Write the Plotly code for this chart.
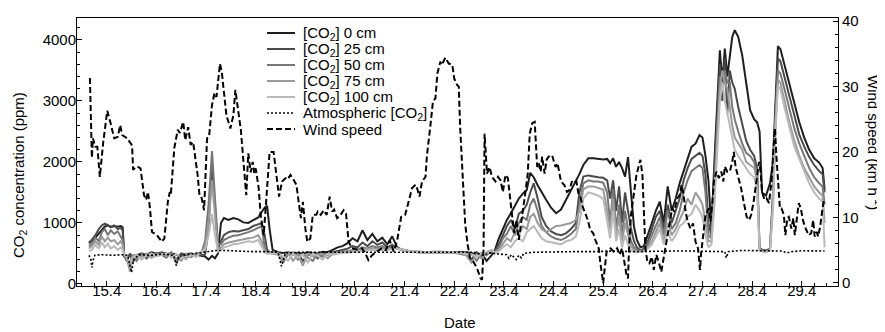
import plotly.graph_objects as go

# ---------------- data ----------------
day_co2 = [
    15.04, 15.10, 15.17, 15.24, 15.30, 15.36, 15.42, 15.48, 15.55, 15.62, 15.68, 15.72,
    15.75, 15.80, 15.87, 15.92, 16.00, 16.10, 16.20, 16.30, 16.40, 16.50, 16.60, 16.70, 16.80, 16.90, 17.00, 17.10, 17.20, 17.30,
    17.38, 17.45, 17.52, 17.58, 17.64, 17.70, 17.76, 17.85, 17.95, 18.05, 18.15, 18.25, 18.35, 18.45, 18.52, 18.58, 18.63, 18.68, 18.74,
    18.85, 18.95, 19.05, 19.15, 19.25, 19.35, 19.45, 19.55, 19.65, 19.75, 19.85, 19.95, 20.05, 20.15,
    20.25, 20.35, 20.45, 20.55, 20.65, 20.75, 20.85, 20.95, 21.05, 21.15, 21.25, 21.35, 21.45, 21.55,
    21.70, 21.85, 22.00, 22.20, 22.40, 22.60, 22.75, 22.85, 22.95, 23.05, 23.15,
    23.22, 23.30, 23.38, 23.46, 23.54, 23.62, 23.70, 23.78, 23.86, 23.93, 24.00, 24.08, 24.16, 24.25, 24.35, 24.45, 24.55, 24.65, 24.75,
    24.85, 24.92, 25.00, 25.10, 25.20, 25.30, 25.40, 25.48, 25.54, 25.60, 25.66, 25.72, 25.78, 25.84, 25.90, 25.96, 26.02, 26.08, 26.15,
    26.22, 26.30, 26.38, 26.46, 26.54, 26.62, 26.70, 26.78, 26.86, 26.94, 27.02, 27.10, 27.18, 27.26, 27.34, 27.40, 27.46, 27.52,
    27.58, 27.64, 27.70, 27.75, 27.80, 27.85, 27.90, 27.95, 28.00, 28.05, 28.12, 28.20, 28.28, 28.36, 28.44, 28.50, 28.55, 28.60,
    28.68, 28.76, 28.82, 28.87, 28.92, 28.97, 29.05, 29.15, 29.25, 29.35, 29.45, 29.55, 29.65, 29.75, 29.82, 29.86,
]

co2_0cm = [
    690, 700, 760, 820, 880, 940, 960, 930, 950, 940, 950, 930,
    450, 420, 480, 460, 470, 500, 480, 520, 500, 510, 490, 500, 480, 470, 490, 500, 480, 460,
    450, 400, 460, 420, 500, 1000, 1080, 1050, 1080, 1060, 1010, 1000, 1050, 1090, 1180, 1250, 1280, 900, 560,
    520, 510, 520, 500, 510, 500, 520, 510, 500, 530, 520, 560, 600, 620,
    670, 750, 700, 880, 720, 820, 700, 760, 650, 780, 600, 560, 540, 530,
    530, 520, 530, 530, 520, 520, 510, 480, 500, 380, 470,
    560, 750, 900, 1050, 1160, 1270, 1400, 1480, 1540, 1820, 1750, 1620, 1500, 1380, 1250, 1160, 1220, 1380, 1540,
    1680, 1800, 1950, 2060, 2060, 2050, 2040, 2050, 1980, 2060, 1920, 2000, 1900, 1760, 2080, 1500, 940, 720, 600,
    620, 800, 1000, 1200, 1350, 1000, 1600, 1200, 1400, 1650, 1850, 2050, 2250, 2300, 2440, 2400, 2100, 1700,
    900, 2000, 3000, 3830, 3300, 3860, 3400, 3700, 4050, 4160, 4050, 3750, 3300, 2850, 2700, 2650, 2500, 1500,
    1450, 1650, 2000, 3000, 3900, 3850, 3600, 3250, 2950, 2650, 2400, 2200, 2060, 1990, 1900, 1550,
]

co2_25cm = [
    660, 720, 800, 900, 960, 990, 970, 940, 960, 900, 920, 880,
    480, 380, 500, 350, 460, 480, 420, 500, 460, 520, 500, 470, 400, 500, 480, 440, 500, 470,
    480, 900, 1950, 1300, 600, 700, 800, 850, 870, 860, 880, 900, 950, 980, 1000, 800, 560, 520, 510,
    500, 420, 510, 480, 500, 380, 470, 500, 420, 500, 480, 520, 540, 560,
    580, 620, 600, 680, 620, 700, 640, 680, 600, 640, 580, 560, 540, 530,
    520, 520, 520, 520, 520, 500, 400, 520, 450, 500, 520,
    540, 650, 800, 950, 1050, 900, 1150, 1200, 1300, 1500, 1650, 1400, 1100, 950, 860, 820, 800, 830, 900,
    1000, 1500, 1760, 1780, 1760, 1750, 1740, 1700, 1400, 1700, 1200, 1600, 1000, 1500, 1200, 900, 700, 600, 550,
    580, 700, 900, 1100, 1200, 900, 1300, 1000, 1200, 1400, 1700, 1900, 2050, 2100, 2150, 2100, 1800, 1000,
    800, 1800, 2800, 3600, 3000, 3700, 2800, 3500, 3300, 3200, 2900, 2600, 2350, 2200, 2100, 1900, 600, 560,
    550, 580, 1500, 2800, 3700, 3650, 3400, 3050, 2750, 2450, 2250, 2080, 1950, 1850, 1800, 1500,
]

co2_50cm = [
    620, 660, 760, 700, 850, 900, 800, 880, 820, 860, 780, 720,
    500, 400, 300, 450, 380, 500, 440, 470, 510, 480, 430, 520, 350, 460, 420, 500, 470, 500,
    700, 1300, 2180, 1400, 650, 650, 720, 760, 790, 800, 820, 850, 880, 920, 950, 600, 520, 510, 500,
    510, 350, 480, 520, 400, 500, 430, 380, 500, 450, 500, 510, 520, 530,
    540, 560, 560, 600, 580, 620, 600, 620, 570, 600, 580, 570, 550, 530,
    520, 520, 520, 520, 510, 480, 500, 380, 500, 470, 540,
    520, 600, 750, 820, 950, 800, 1000, 1100, 1050, 1300, 1400, 1200, 950, 850, 780, 740, 720, 760, 820,
    900, 1300, 1650, 1700, 1680, 1680, 1660, 1500, 1000, 1550, 900, 1300, 800, 1200, 900, 700, 600, 560, 540,
    560, 650, 800, 950, 1100, 800, 1200, 900, 1000, 1200, 1500, 1700, 1850, 1900, 1950, 1900, 1500, 800,
    750, 1600, 2600, 3400, 3200, 3500, 3300, 3300, 2900, 2700, 2500, 2300, 2150, 2100, 2000, 1800, 580, 550,
    540, 570, 1400, 2700, 3500, 3450, 3200, 2850, 2550, 2300, 2100, 1900, 1750, 1650, 1600, 1300,
]

co2_75cm = [
    580, 620, 700, 640, 780, 700, 760, 700, 720, 650, 700, 640,
    470, 430, 200, 480, 420, 450, 500, 430, 480, 500, 460, 480, 420, 380, 500, 450, 500, 520,
    600, 1000, 1700, 1100, 550, 600, 650, 680, 700, 720, 730, 750, 760, 800, 700, 530, 500, 510, 500,
    480, 400, 520, 380, 480, 300, 500, 450, 480, 500, 420, 500, 510, 520,
    520, 530, 540, 560, 560, 580, 570, 580, 560, 590, 580, 570, 540, 530,
    520, 520, 520, 520, 520, 510, 350, 480, 420, 520, 560,
    520, 560, 650, 750, 700, 850, 800, 950, 900, 1100, 1150, 1000, 900, 850, 900, 950, 960, 980, 1000,
    1050, 1200, 1550, 1600, 1600, 1580, 1550, 1200, 900, 1400, 800, 1100, 700, 1000, 800, 620, 560, 540, 530,
    540, 600, 700, 850, 1000, 700, 1000, 800, 900, 1050, 1200, 1400, 1300, 1500, 1400, 1300, 1000, 700,
    700, 1400, 2400, 3200, 3500, 3300, 3200, 2900, 2600, 2400, 2300, 2200, 2000, 1950, 1900, 1700, 560, 540,
    530, 560, 1300, 2600, 3350, 3300, 3000, 2650, 2350, 2100, 1900, 1750, 1600, 1500, 1450, 1000,
]

co2_100cm = [
    540, 560, 640, 580, 680, 600, 660, 580, 620, 560, 600, 560,
    490, 450, 350, 420, 480, 400, 470, 500, 450, 470, 500, 430, 490, 450, 400, 480, 440, 530,
    560, 800, 1150, 800, 530, 560, 600, 620, 650, 660, 680, 700, 690, 720, 620, 520, 500, 500, 490,
    500, 450, 380, 500, 430, 480, 350, 500, 460, 400, 500, 480, 500, 510,
    510, 520, 520, 540, 540, 560, 550, 560, 550, 580, 580, 560, 540, 530,
    520, 520, 520, 520, 520, 500, 480, 450, 500, 480, 560,
    510, 540, 600, 650, 600, 700, 750, 700, 850, 900, 950, 850, 750, 700, 680, 660, 650, 700, 720,
    780, 1000, 1400, 1500, 1480, 1450, 1400, 1000, 750, 1200, 700, 900, 600, 800, 650, 560, 530, 520, 520,
    530, 580, 650, 780, 900, 650, 850, 700, 800, 950, 1000, 1100, 1150, 1300, 1200, 1100, 800, 600,
    650, 1300, 2200, 3000, 3300, 3000, 2800, 2600, 2400, 2200, 2100, 2000, 1900, 1800, 1750, 1550, 550, 530,
    520, 550, 1200, 2500, 3250, 3200, 2900, 2550, 2250, 2050, 1850, 1650, 1500, 1400, 1350, 600,
]

day_atm = [15.04, 15.08, 15.10, 15.12, 15.16, 15.30, 15.50, 15.70, 15.82, 15.86, 15.90, 15.94, 16.05, 16.30,
           16.50, 16.75, 16.80, 16.85, 17.00, 17.20, 17.40, 17.60, 17.80, 18.00, 18.30, 18.60, 18.85, 18.92,
           19.00, 19.30, 19.60, 20.00, 20.40, 20.80, 21.20, 21.60, 22.00, 22.40, 22.80, 23.00, 23.10, 23.20,
           23.45, 23.50, 23.55, 23.65, 23.70, 23.75, 23.80, 24.00, 24.40, 24.80, 25.20, 25.60, 26.00, 26.40,
           26.80, 27.20, 27.60, 27.85, 27.88, 27.92, 28.20, 28.60, 29.00, 29.10, 29.20, 29.40, 29.86]
co2_atm = [470, 400, 270, 380, 470, 480, 470, 480, 470, 300, 190, 400, 480, 470,
           490, 470, 300, 450, 480, 500, 530, 550, 550, 540, 530, 530, 520, 290,
           510, 520, 520, 520, 530, 530, 530, 530, 520, 520, 520, 470, 510, 500,
           480, 420, 480, 400, 470, 430, 500, 520, 530, 530, 530, 540, 530, 540,
           540, 540, 540, 530, 430, 530, 550, 550, 540, 510, 530, 545, 540]

day_wind = [
    15.06, 15.10, 15.12, 15.17, 15.21, 15.26, 15.33, 15.41, 15.47, 15.55, 15.62, 15.67, 15.71, 15.81, 15.91, 15.93,
    16.01, 16.08, 16.15, 16.19, 16.23, 16.27, 16.31, 16.41, 16.51, 16.56, 16.63, 16.67, 16.69, 16.76, 16.83, 16.87,
    16.94, 16.98, 17.04, 17.09, 17.14, 17.17, 17.23, 17.27, 17.31, 17.36, 17.42, 17.46, 17.52, 17.57, 17.61, 17.68,
    17.72, 17.81, 17.89, 17.95, 17.99, 18.04, 18.10, 18.17, 18.21, 18.25, 18.30, 18.34, 18.37, 18.40, 18.46, 18.50,
    18.56, 18.61, 18.68, 18.76, 18.81, 18.87, 18.93, 19.00, 19.04, 19.10, 19.16, 19.22, 19.26, 19.31, 19.35, 19.40,
    19.44, 19.50, 19.55, 19.62, 19.65, 19.71, 19.77, 19.83, 19.89, 19.94, 19.98, 20.04, 20.11, 20.17, 20.22, 20.27,
    20.34, 20.44, 20.54, 20.61, 20.67, 20.74, 20.84, 20.94, 21.02, 21.10, 21.18, 21.25, 21.33, 21.41, 21.48, 21.55,
    21.62, 21.65, 21.70, 21.75, 21.82, 21.85, 21.92, 21.97, 22.02, 22.06, 22.12, 22.15, 22.22, 22.29, 22.36, 22.40,
    22.46, 22.49, 22.52, 22.57, 22.62, 22.67, 22.72, 22.79, 22.86, 22.93, 22.96, 22.99, 23.01, 23.06, 23.11, 23.16,
    23.23, 23.28, 23.33, 23.38, 23.43, 23.48, 23.52, 23.56, 23.61, 23.65, 23.70, 23.77, 23.83, 23.88, 23.92, 23.97,
    24.02, 24.07, 24.10, 24.14, 24.17, 24.22, 24.26, 24.30, 24.37, 24.44, 24.48, 24.55, 24.62, 24.67, 24.72, 24.77,
    24.80, 24.86, 24.90, 24.94, 24.99, 25.04, 25.09, 25.14, 25.20, 25.24, 25.31, 25.34, 25.37, 25.40, 25.43, 25.47,
    25.55, 25.61, 25.68, 25.73, 25.78, 25.83, 25.87, 25.90, 25.92, 25.96, 26.02, 26.07, 26.12, 26.15, 26.19, 26.22,
    26.25, 26.29, 26.33, 26.38, 26.42, 26.47, 26.52, 26.57, 26.61, 26.66, 26.72, 26.79, 26.83, 26.89, 26.94, 26.98,
    27.02, 27.06, 27.10, 27.16, 27.21, 27.26, 27.31, 27.35, 27.37, 27.42, 27.46, 27.53, 27.56, 27.60, 27.63, 27.68,
    27.73, 27.78, 27.82, 27.85, 27.90, 27.95, 28.00, 28.03, 28.07, 28.11, 28.18, 28.23, 28.29, 28.34, 28.38, 28.43,
    28.49, 28.54, 28.57, 28.60, 28.65, 28.69, 28.74, 28.79, 28.83, 28.86, 28.89, 28.93, 28.96, 28.99, 29.04, 29.07,
    29.11, 29.14, 29.19, 29.23, 29.26, 29.31, 29.34, 29.38, 29.43, 29.48, 29.54, 29.59, 29.63, 29.66, 29.70, 29.73,
    29.77, 29.81, 29.85,
]
wind_speed = [
    31.3, 19.1, 22.1, 20.8, 20.8, 16.2, 21.6, 26.3, 24.6, 22.1, 22.3, 24.1, 22.6, 22.1, 21.0, 17.3,
    17.8, 17.5, 13.4, 12.7, 13.9, 11.4, 7.8, 7.3, 6.3, 6.8, 12.4, 13.9, 13.5, 20.6, 23.4, 22.9,
    24.6, 21.8, 23.8, 21.1, 21.5, 20.0, 16.5, 13.2, 13.0, 11.1, 22.1, 22.3, 27.2, 29.0, 28.4, 33.5,
    32.0, 25.6, 23.6, 25.6, 29.5, 26.7, 23.4, 17.0, 13.4, 19.8, 16.9, 18.5, 16.8, 17.5, 14.5, 10.4,
    7.3, 12.4, 20.0, 20.0, 16.5, 13.2, 15.5, 16.0, 15.8, 16.5, 15.8, 15.0, 12.7, 9.9, 12.4, 8.3,
    6.3, 6.8, 10.4, 10.4, 10.9, 10.4, 11.1, 10.4, 13.2, 10.9, 11.2, 9.9, 10.4, 11.1, 10.6, 6.3,
    5.3, 5.1, 5.3, 4.5, 3.5, 4.2, 4.8, 5.3, 5.0, 6.5, 4.8, 6.5, 10.1, 10.4, 12.4, 14.5,
    15.0, 14.5, 13.2, 15.5, 16.2, 19.5, 24.1, 27.7, 28.2, 32.0, 33.8, 33.3, 34.4, 33.5, 33.3, 31.2,
    30.2, 30.0, 23.5, 15.5, 9.0, 5.8, 3.8, 3.2, 2.2, 0.7, 0.5, 5.3, 22.8, 16.7, 17.7, 16.2,
    15.5, 16.2, 15.7, 13.9, 16.5, 16.0, 12.7, 10.6, 7.6, 9.6, 6.6, 10.1, 13.7, 16.7, 22.8, 24.4,
    24.6, 17.7, 18.3, 17.0, 19.3, 16.7, 18.8, 19.3, 19.5, 17.7, 18.3, 15.5, 14.9, 13.9, 14.2, 15.5,
    15.2, 15.5, 13.7, 13.2, 11.6, 10.6, 9.6, 8.1, 7.6, 6.6, 5.3, 3.2, 1.2, 0.0, 2.2, 4.8,
    5.3, 4.8, 5.3, 4.3, 5.3, 3.2, 1.2, 0.7, 5.3, 10.4, 13.9, 16.5, 18.0, 18.8, 16.5, 10.4,
    5.3, 3.2, 3.0, 4.0, 2.0, 4.3, 3.2, 1.7, 3.5, 5.3, 8.3, 11.4, 10.9, 12.9, 13.4, 15.0,
    13.4, 10.9, 9.4, 8.3, 9.1, 6.3, 5.3, 2.0, 4.3, 8.3, 10.4, 11.4, 9.4, 12.4, 15.5, 17.0,
    16.0, 17.0, 15.5, 17.8, 17.0, 17.0, 18.5, 20.0, 17.6, 16.5, 14.4, 12.4, 10.1, 9.6, 10.4, 12.4,
    15.5, 18.5, 17.0, 13.9, 12.7, 12.9, 12.2, 15.5, 20.6, 23.6, 19.3, 13.9, 11.4, 11.4, 10.4, 7.3,
    9.9, 10.1, 8.3, 9.9, 7.3, 10.4, 12.2, 11.4, 9.4, 8.3, 7.3, 7.6, 9.6, 7.1, 7.8, 7.1,
    8.6, 10.9, 12.9,
]

x_tick_labels = ["15.4", "16.4", "17.4", "18.4", "19.4", "20.4", "21.4", "22.4",
                 "23.4", "24.4", "25.4", "26.4", "27.4", "28.4", "29.4"]
x_tick_vals = [float(t) for t in x_tick_labels]

series_names = ["[CO<sub>2</sub>] 0 cm", "[CO<sub>2</sub>] 25 cm", "[CO<sub>2</sub>] 50 cm",
                "[CO<sub>2</sub>] 75 cm", "[CO<sub>2</sub>] 100 cm", "Atmospheric [CO<sub>2</sub>]", "Wind speed"]

# ---------------- styling ----------------
FONT = "Liberation Sans, Arial, Helvetica, sans-serif"
greys = ["#1e1e1e", "#4a4a4a", "#777777", "#9a9a9a", "#bababa"]
co2_series = [co2_0cm, co2_25cm, co2_50cm, co2_75cm, co2_100cm]

fig = go.Figure()
for vals, col, name in zip(co2_series, greys, series_names[:5]):
    fig.add_trace(go.Scatter(x=day_co2, y=vals, mode="lines", name=name,
                             line=dict(color=col, width=2), showlegend=False))
fig.add_trace(go.Scatter(x=day_atm, y=co2_atm, mode="lines", name=series_names[5],
                         line=dict(color="black", width=1.6, dash="2px,2px"), showlegend=False))
fig.add_trace(go.Scatter(x=day_wind, y=wind_speed, mode="lines", name=series_names[6], yaxis="y2",
                         line=dict(color="black", width=2, dash="6px,3px"), showlegend=False))

# manual legend (line samples + labels), placed in paper coordinates
leg_styles = [dict(color=c, width=2) for c in greys] + [
    dict(color="black", width=1.6, dash="2px,2px"), dict(color="black", width=2, dash="6px,3px")]
shapes, annos = [], []
for i, (nm, st) in enumerate(zip(series_names, leg_styles)):
    yy = 0.944 - 0.0597 * i
    shapes.append(dict(type="line", xref="paper", yref="paper", x0=0.2497, x1=0.2865,
                       y0=yy, y1=yy, line=st))
    annos.append(dict(xref="paper", yref="paper", x=0.2945, y=yy, text=nm, showarrow=False,
                      xanchor="left", yanchor="middle", font=dict(family=FONT, size=15, color="black")))

annos.append(dict(xref="paper", yref="paper", x=-0.0762, y=0.414, text="CO<sub>2</sub> concentration (ppm)",
                  textangle=-90, showarrow=False, xanchor="center", yanchor="middle",
                  font=dict(family=FONT, size=15, color="black")))
annos.append(dict(xref="paper", yref="paper", x=1.0485, y=0.534, text="Wind speed (km h<sup>-1</sup>)",
                  textangle=90, showarrow=False, xanchor="center", yanchor="middle",
                  font=dict(family=FONT, size=15, color="black")))
annos.append(dict(xref="paper", yref="paper", x=0.503, y=-0.138, text="Date",
                  showarrow=False, xanchor="center", yanchor="middle",
                  font=dict(family=FONT, size=15, color="black")))

# the page body adds an 8px margin, so the figure is 8px smaller and margins shifted
fig.update_layout(
    width=877, height=324,
    margin=dict(l=69, r=47, t=10, b=46, autoexpand=False),
    paper_bgcolor="white", plot_bgcolor="white",
    font=dict(family=FONT, size=15, color="black"),
    showlegend=False,
    shapes=shapes, annotations=annos,
    xaxis=dict(range=[14.8, 30.13], tickmode="array", tickvals=x_tick_vals, ticktext=x_tick_labels,
               ticks="inside", ticklen=5, tickcolor="black", tickwidth=1, ticklabelstandoff=-9,
               minor=dict(tick0=15.4, dtick=0.25, ticks="inside", ticklen=3, tickcolor="black"),
               showline=True, linecolor="black", linewidth=1, mirror=True,
               showgrid=False, zeroline=False, tickfont=dict(size=15)),
    yaxis=dict(range=[-33, 4360], tickvals=[0, 1000, 2000, 3000, 4000],
               ticks="inside", ticklen=5, tickcolor="black", ticklabelstandoff=-3,
               minor=dict(dtick=200, ticks="inside", ticklen=3, tickcolor="black"),
               showline=True, linecolor="black", linewidth=1,
               showgrid=False, zeroline=False, tickfont=dict(size=15)),
    yaxis2=dict(range=[-0.46, 40.46], tickvals=[0, 10, 20, 30, 40], overlaying="y", side="right",
                ticks="inside", ticklen=5, tickcolor="black", ticklabelstandoff=0,
                minor=dict(dtick=2, ticks="inside", ticklen=3, tickcolor="black"),
                showline=True, linecolor="black", linewidth=1,
                showgrid=False, zeroline=False, tickfont=dict(size=15)),
)

fig.write_html("out.html")
